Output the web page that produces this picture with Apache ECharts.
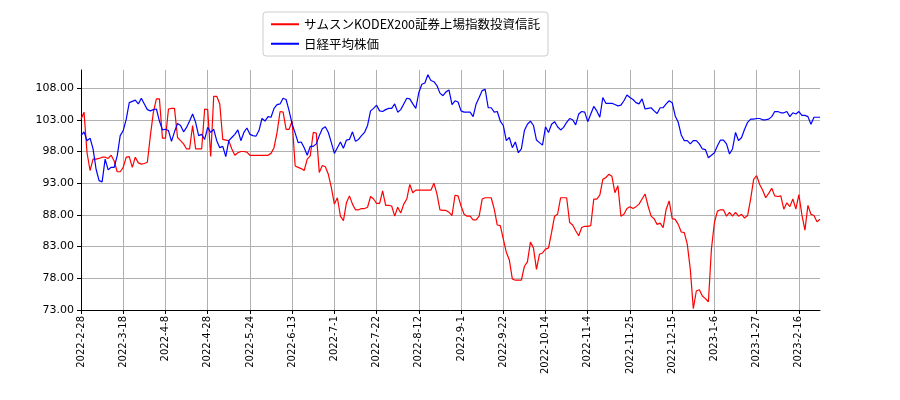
<!DOCTYPE html>
<html>
<head>
<meta charset="utf-8">
<script src="https://cdn.jsdelivr.net/npm/echarts@6/dist/echarts.min.js"></script>
<style>
  html, body { margin: 0; padding: 0; background: #fff; }
  #main { width: 900px; height: 400px; }
</style>
</head>
<body>
<div id="main"></div>
<script>
// 東証の営業日 2022-2-28 〜 2023-2-28
const firstDay = '2022-02-28'
const lastDay = '2023-02-28'
const holidays = ['2022-03-21','2022-04-29','2022-05-03','2022-05-04','2022-05-05','2022-07-18',
  '2022-08-11','2022-09-19','2022-09-23','2022-10-10','2022-11-03','2022-11-23',
  '2023-01-02','2023-01-03','2023-01-09','2023-02-23']

const kodexName = 'サムスンKODEX200証券上場指数投資信託'
const nikkeiName = '日経平均株価'

const kodex = [
  103.1,104.2,97.8,95,96.8,96.8,96.9,97.1,97.1,96.9,
  97.4,96.5,94.8,94.8,95.5,97.1,97.2,95.5,97.1,96.2,
  96,96.1,96.3,100.5,104.2,106.3,106.3,100.1,100.1,104.7,
  104.8,104.8,100.2,99.7,99.2,98.4,98.4,102.1,98.4,98.4,
  98.4,104.7,104.6,97.2,106.7,106.7,105.5,99.9,99.8,99.7,
  98.4,97.4,97.8,98,98,97.9,97.4,97.4,97.4,97.4,
  97.4,97.4,97.4,97.7,98.6,101,104.3,104.2,101.5,101.5,
  102.8,95.7,95.5,95.3,95,96.8,97.3,101,100.9,94.7,
  95.8,95.6,94.4,92.3,89.7,90.7,87.8,87.1,89.9,91,
  89.7,88.8,88.8,89,89,89.2,90.9,90.5,89.8,89.8,
  91.8,89.5,89.5,89.4,87.8,89.2,88.3,89.7,90.5,92.8,
  91.5,91.9,91.9,91.9,91.9,91.9,91.9,93,91.3,88.8,
  88.7,88.7,88.4,87.9,91.1,91,89.4,88.1,87.8,87.8,
  87.2,87.2,87.8,90.5,90.7,90.7,90.7,88.9,86.4,86.3,
  84.2,82.1,80.9,77.9,77.7,77.7,77.7,79.9,80.6,83.7,
  82.8,79.4,81.8,82,82.6,82.8,85.2,87.8,88.1,90.7,
  90.7,90.7,86.8,86.4,85.5,84.7,86,86.2,86.2,86.3,
  90.5,90.5,91.1,93.6,93.9,94.4,94.1,91.5,92.6,87.8,
  88.1,89,89.3,89,89.3,89.7,90.5,91.3,89.4,87.8,
  87.4,86.5,86.7,86,88.9,90.2,87.4,87.3,86.5,85.3,
  85.2,83.4,79.4,73.2,76,76.2,75.2,74.8,74.3,82.6,
  86.8,88.6,88.8,88.8,87.8,88.4,87.8,88.4,87.8,88.1,
  87.5,87.9,90.5,93.6,94.2,92.8,91.9,90.7,91.4,92.2,
  91,90.9,91,88.9,89.9,89.3,90.5,88.9,91.2,88,
  85.6,89.5,88.1,87.9,86.9,87.3
]

const nikkei = [
  100.5,101.1,99.7,100.1,98.4,95.2,93.4,93.2,96.8,95.1,
  95.5,95.5,97.3,100.5,101.3,103.1,105.7,105.9,106.1,105.5,
  106.4,105.5,104.6,104.4,104.6,104.7,102.8,101.4,101.5,101.3,
  99.6,101.1,102.4,102.1,101.1,101.8,102.8,103.9,102.6,100.5,
  100.7,99.9,101.8,101,101.5,99.7,98.6,98.8,97.2,99.7,
  100.2,100.7,101.4,99.7,101,101.7,100.7,100.5,100.4,101.3,
  103.2,102.8,103.5,103.4,104.8,105.4,105.5,106.4,106.2,104.4,
  102.3,100.9,99.4,99.5,98.6,97.4,98.8,98.8,99.2,100.5,
  101.6,101.9,101,99.4,97.7,98.6,99.5,98.5,99.8,99.9,
  101.1,99.6,99.9,100.5,101,102.1,104.4,104.8,105.3,104.4,
  104.3,104.6,104.8,104.8,105.5,104.2,104.6,105.5,106.4,106.3,
  105.5,104.8,107.3,108.6,108.8,110.1,109.2,109,108.4,107.2,
  106.8,107.4,107.7,105.4,106,105.8,104.4,104.2,104.2,104.2,
  103.5,105.5,106.5,107.6,107.8,104.9,104.9,104.2,104.3,102.8,
  102.1,99.7,100.2,98.6,99.5,97.8,98.4,101.3,102.3,102.8,
  102.1,99.8,99.4,99,101.9,101,102.3,102.7,101.9,101.4,
  101.8,102.6,103.2,103,102.2,103.9,104.3,104.2,102.7,103.9,
  105.1,104.4,103.4,106.5,105.6,105.6,105.6,105.4,105.2,105.3,
  106,106.9,106.5,106.2,105.7,105.5,106.3,104.7,104.8,104.9,
  104.4,104,104.9,104.9,105.5,106,105.7,103.6,102.6,100.6,
  99.7,99.7,99.2,99.7,99.7,99.2,98.4,98.3,97,97.4,
  97.8,98.9,99.8,99.8,99.2,97.6,98.4,101,99.7,100.2,
  101.5,102.6,103.1,103.1,103.2,103.2,103,103,103.1,103.5,
  104.3,104.3,104.1,104.1,104.3,103.5,104.1,103.9,104.3,103.7,
  103.7,103.5,102.3,103.4,103.4,103.4
]

function tradingDays(from, to, offDays) {
  let out = []
  let d = new Date(from + 'T00:00:00Z')
  let end = new Date(to + 'T00:00:00Z')
  while (d <= end) {
    let iso = d.toISOString().slice(0, 10)
    let wd = d.getUTCDay()
    if (wd !== 0 && wd !== 6 && offDays.indexOf(iso) < 0) {
      out.push(d.getUTCFullYear() + '-' + (d.getUTCMonth() + 1) + '-' + d.getUTCDate())
    }
    d.setUTCDate(d.getUTCDate() + 1)
  }
  return out
}
const dates = tradingDays(firstDay, lastDay, holidays)

const gridColor = '#b0b0b0'
var myChart = echarts.init(document.getElementById('main'))
var option = {
  animation: false,
  textStyle: { fontFamily: 'DejaVu Sans' },
  grid: { left: 81, right: 80, top: 70, bottom: 90 },
  legend: {
    orient: 'vertical',
    left: 263,
    top: 12,
    padding: [6, 8, 6, 8],
    itemGap: 7,
    itemWidth: 28,
    itemHeight: 2,
    icon: 'rect',
    backgroundColor: '#fff',
    borderColor: '#cccccc',
    borderWidth: 1,
    borderRadius: 3,
    textStyle: { fontFamily: 'Noto Sans CJK JP', fontSize: 12.5, color: '#000' },
    data: [kodexName, nikkeiName]
  },
  xAxis: {
    type: 'category',
    data: dates,
    boundaryGap: false,
    axisLine: { lineStyle: { color: '#000', width: 1 } },
    axisTick: { interval: 13, length: 4, lineStyle: { color: '#000' } },
    axisLabel: { interval: 13, rotate: 90, fontSize: 10, color: '#000', margin: 6 },
    splitLine: { show: true, interval: 13, lineStyle: { color: gridColor, width: 1 } }
  },
  yAxis: {
    type: 'value',
    min: 73,
    max: 110.85,
    interval: 5,
    axisLine: { show: true, lineStyle: { color: '#000', width: 1 } },
    axisTick: { show: true, length: 4, lineStyle: { color: '#000' } },
    axisLabel: {
      fontSize: 11, color: '#000', margin: 7, showMaxLabel: false,
      formatter: v => v.toFixed(2)
    },
    splitLine: {
      lineStyle: {
        color: [gridColor, gridColor, gridColor, gridColor, gridColor, gridColor, gridColor, gridColor, 'rgba(0,0,0,0)'],
        width: 1
      }
    }
  },
  series: [
    {
      name: kodexName,
      type: 'line',
      data: kodex,
      showSymbol: false,
      color: '#ff0000',
      lineStyle: { color: '#ff0000', width: 1.2 }
    },
    {
      name: nikkeiName,
      type: 'line',
      data: nikkei,
      showSymbol: false,
      color: '#0000ff',
      lineStyle: { color: '#0000ff', width: 1.2 }
    }
  ]
}
myChart.setOption(option)
</script>
</body>
</html>
